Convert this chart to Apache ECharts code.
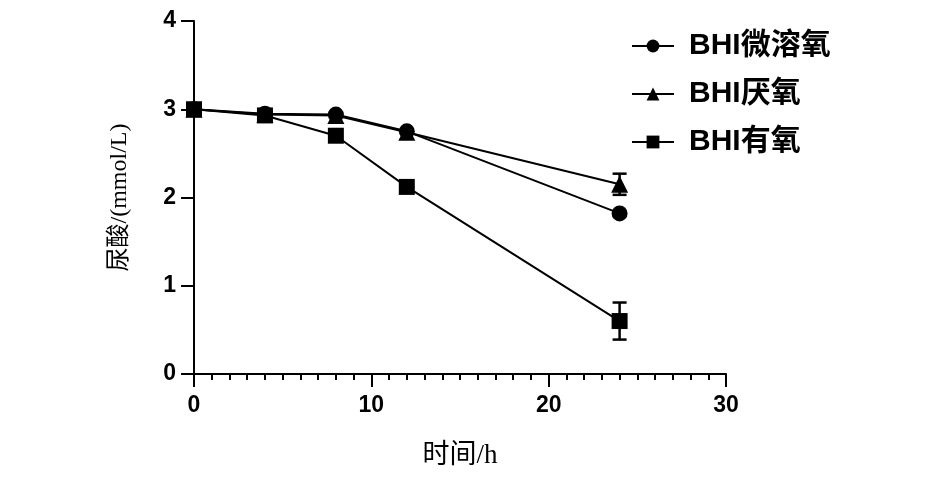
<!DOCTYPE html>
<html><head><meta charset="utf-8">
<script src="https://cdn.jsdelivr.net/npm/echarts@6/dist/echarts.min.js"></script>
<style>html,body{margin:0;padding:0;background:#fff}#c{width:945px;height:480px}</style>
</head><body><div id="c"></div>
<script>
const hours = [0, 4, 8, 12, 24];
const seriesNames = ['BHI微溶氧', 'BHI厌氧', 'BHI有氧'];
const microValues = [3.00, 2.95, 2.94, 2.75, 1.82];
const microErr = [0, 0, 0, 0, 0.03];
const anaeroValues = [3.00, 2.94, 2.93, 2.74, 2.15];
const anaeroErr = [0, 0, 0, 0, 0.12];
const aeroValues = [3.00, 2.93, 2.70, 2.12, 0.60];
const aeroErr = [0, 0, 0, 0, 0.21];
const xTicks = [0, 10, 20, 30];
const yTicks = [0, 1, 2, 3, 4];

const symbols = ['circle', 'triangle', 'rect'];
const allVals = [microValues, anaeroValues, aeroValues];
const allErr = [microErr, anaeroErr, aeroErr];

const chart = echarts.init(document.getElementById('c'));
const series = [];
allVals.forEach((vals, i) => {
  series.push({
    type: 'custom',
    name: seriesNames[i] + '_err',
    z: 1,
    silent: true,
    data: hours.map((h, k) => [h, vals[k] - allErr[i][k], vals[k] + allErr[i][k]]),
    renderItem: function (params, api) {
      const lo = api.coord([api.value(0), api.value(1)]);
      const hi = api.coord([api.value(0), api.value(2)]);
      if (Math.abs(hi[1] - lo[1]) < 8) return null;
      const w = 7;
      const st = { stroke: '#000', lineWidth: 2.5 };
      return { type: 'group', children: [
        { type: 'line', shape: { x1: lo[0], y1: lo[1], x2: hi[0], y2: hi[1] }, style: st },
        { type: 'line', shape: { x1: lo[0] - w, y1: lo[1], x2: lo[0] + w, y2: lo[1] }, style: st },
        { type: 'line', shape: { x1: hi[0] - w, y1: hi[1], x2: hi[0] + w, y2: hi[1] }, style: st }
      ]};
    }
  });
  series.push({
    type: 'line',
    name: seriesNames[i],
    data: hours.map((h, k) => [h, vals[k]]),
    symbol: symbols[i],
    symbolSize: i === 1 ? 17 : 16,
    z: 3,
    lineStyle: { color: '#000', width: 2 },
    itemStyle: { color: '#000' },
    color: '#000'
  });
});

chart.setOption({
  animation: false,
  backgroundColor: '#fff',
  grid: { left: 194, right: 219, top: 21, bottom: 106, containLabel: false },
  legend: {
    data: seriesNames,
    orient: 'vertical',
    left: 626,
    top: 26,
    itemWidth: 42,
    itemHeight: 16,
    itemGap: 18,
    textStyle: { fontFamily: 'Liberation Sans, Noto Sans CJK SC', fontWeight: 'bold', fontSize: 30, color: '#000', padding: [0, 0, 0, 10] }
  },
  xAxis: {
    type: 'value', min: 0, max: 30, interval: 10,
    name: '时间/h', nameLocation: 'middle', nameGap: 68,
    nameTextStyle: { fontFamily: 'Liberation Serif, Noto Sans CJK SC', fontSize: 27, color: '#000' },
    axisLine: { lineStyle: { color: '#000', width: 2 } },
    axisTick: { inside: false, length: 13, lineStyle: { color: '#000', width: 2 } },
    minorTick: { show: true, splitNumber: 10, length: 6, lineStyle: { color: '#000', width: 2 } },
    splitLine: { show: false },
    axisLabel: { fontFamily: 'Liberation Sans', fontWeight: 'bold', fontSize: 23, color: '#000', margin: 20 }
  },
  yAxis: {
    type: 'value', min: 0, max: 4, interval: 1,
    name: '尿酸/(mmol/L)', nameLocation: 'middle', nameGap: 62, nameRotate: 90,
    nameTextStyle: { fontFamily: 'Liberation Serif, Noto Sans CJK SC', fontSize: 24, color: '#000' },
    axisLine: { show: true, lineStyle: { color: '#000', width: 2 } },
    axisTick: { show: true, length: 13, lineStyle: { color: '#000', width: 2 } },
    splitLine: { show: false },
    axisLabel: { fontFamily: 'Liberation Sans', fontWeight: 'bold', fontSize: 23, color: '#000', margin: 18 }
  },
  series: series
});
</script></body></html>
